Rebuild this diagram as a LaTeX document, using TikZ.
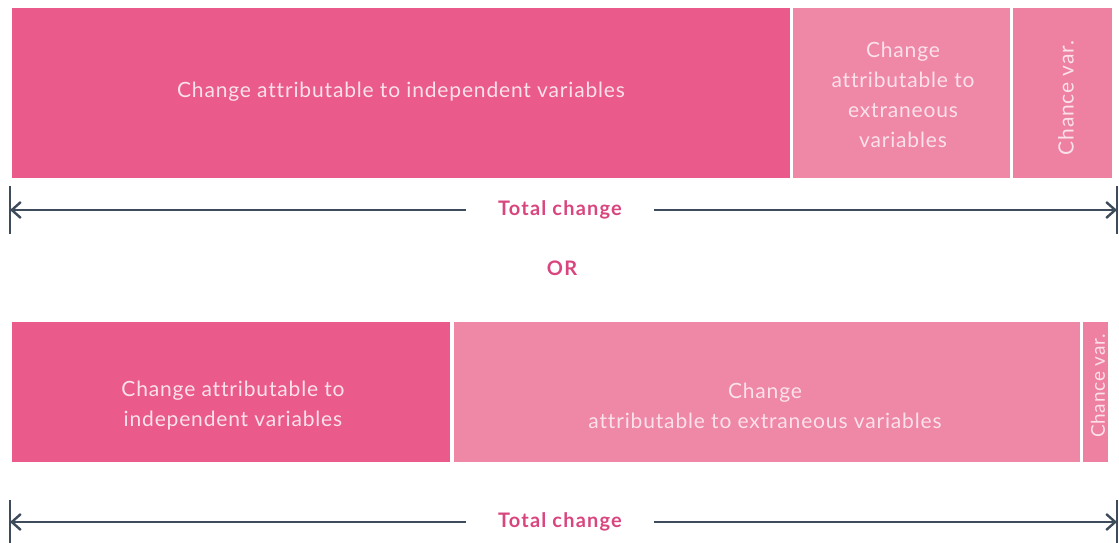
\documentclass[tikz,border=0pt]{standalone}
\usepackage{fontspec}
\setmainfont{Lato}[LetterSpace=4, Ligatures={NoCommon}]
\usetikzlibrary{arrows.meta}
\definecolor{barDark}{HTML}{EA5A8B}
\definecolor{barLight}{HTML}{EF87A7}
\definecolor{barChance}{HTML}{EE80A2}
\definecolor{barText}{HTML}{FBE2EA}
\definecolor{lineCol}{HTML}{3E4B5B}
\definecolor{labelCol}{HTML}{D9457E}
\tikzset{
  barbox/.style={draw=none, fill=#1, inner sep=0pt, anchor=north west},
  bartext/.style={text=barText, font=\fontsize{21}{30}\selectfont, align=center},
  measure/.style={draw=lineCol, line width=2pt, {Straight Barb[length=9pt,width=16pt,line width=2.4pt]}-{Straight Barb[length=9pt,width=16pt,line width=2.4pt]}},
  tick/.style={draw=lineCol, line width=2pt},
  totallabel/.style={fill=white, text=labelCol, font=\bfseries\fontsize{20}{22}\selectfont\addfontfeature{LetterSpace=6}, inner xsep=32pt, inner ysep=4pt},
}
\begin{document}
\begin{tikzpicture}[x=1pt,y=-1pt]
\useasboundingbox (0,0) rectangle (1119,543);
% top row
\node[barbox=barDark, minimum width=778pt, minimum height=170pt] (t1) at (12,8) {};
\node[barbox=barLight, minimum width=217pt, minimum height=170pt] (t2) at (793,8) {};
\node[barbox=barChance, minimum width=99pt, minimum height=170pt] (t3) at (1013,8) {};
\node[bartext] (t1txt) at (401,92) {Change attributable to independent variables};
\node[bartext] (t2txt) at (903,95) {Change\\attributable to\\extraneous\\variables};
\node[bartext, rotate=90] (t3txt) at (1066,98) {Chance var.};
% top measure
\coordinate (L1) at (10,210);
\coordinate (R1) at (1117,210);
\coordinate (L1a) at (10,186);
\coordinate (L1b) at (10,234);
\coordinate (R1a) at (1117,186);
\coordinate (R1b) at (1117,234);
\draw[tick] (L1a) -- (L1b);
\draw[tick] (R1a) -- (R1b);
\draw[measure] (L1) -- (R1);
\node[totallabel] (tc1) at (560,210) {Total change};
\node[text=labelCol, font=\bfseries\fontsize{20}{22}\selectfont\addfontfeature{LetterSpace=6}] (or) at (562,268) {OR};
% bottom row
\node[barbox=barDark, minimum width=438pt, minimum height=140pt] (b1) at (12,322) {};
\node[barbox=barLight, minimum width=626pt, minimum height=140pt] (b2) at (454,322) {};
\node[barbox=barChance, minimum width=25pt, minimum height=140pt] (b3) at (1083,322) {};
\node[bartext] (b1txt) at (233,406) {Change attributable to\\independent variables};
\node[bartext] (b2txt) at (765,406) {Change\\attributable to extraneous variables};
\node[bartext, rotate=90, font=\fontsize{19}{20}\selectfont] (b3txt) at (1098,386) {Chance var.};
% bottom measure
\coordinate (L2) at (10,522);
\coordinate (R2) at (1117,522);
\coordinate (L2a) at (10,500);
\coordinate (L2b) at (10,543);
\coordinate (R2a) at (1117,500);
\coordinate (R2b) at (1117,543);
\draw[tick] (L2a) -- (L2b);
\draw[tick] (R2a) -- (R2b);
\draw[measure] (L2) -- (R2);
\node[totallabel] (tc2) at (560,522) {Total change};
\end{tikzpicture}
\end{document}
